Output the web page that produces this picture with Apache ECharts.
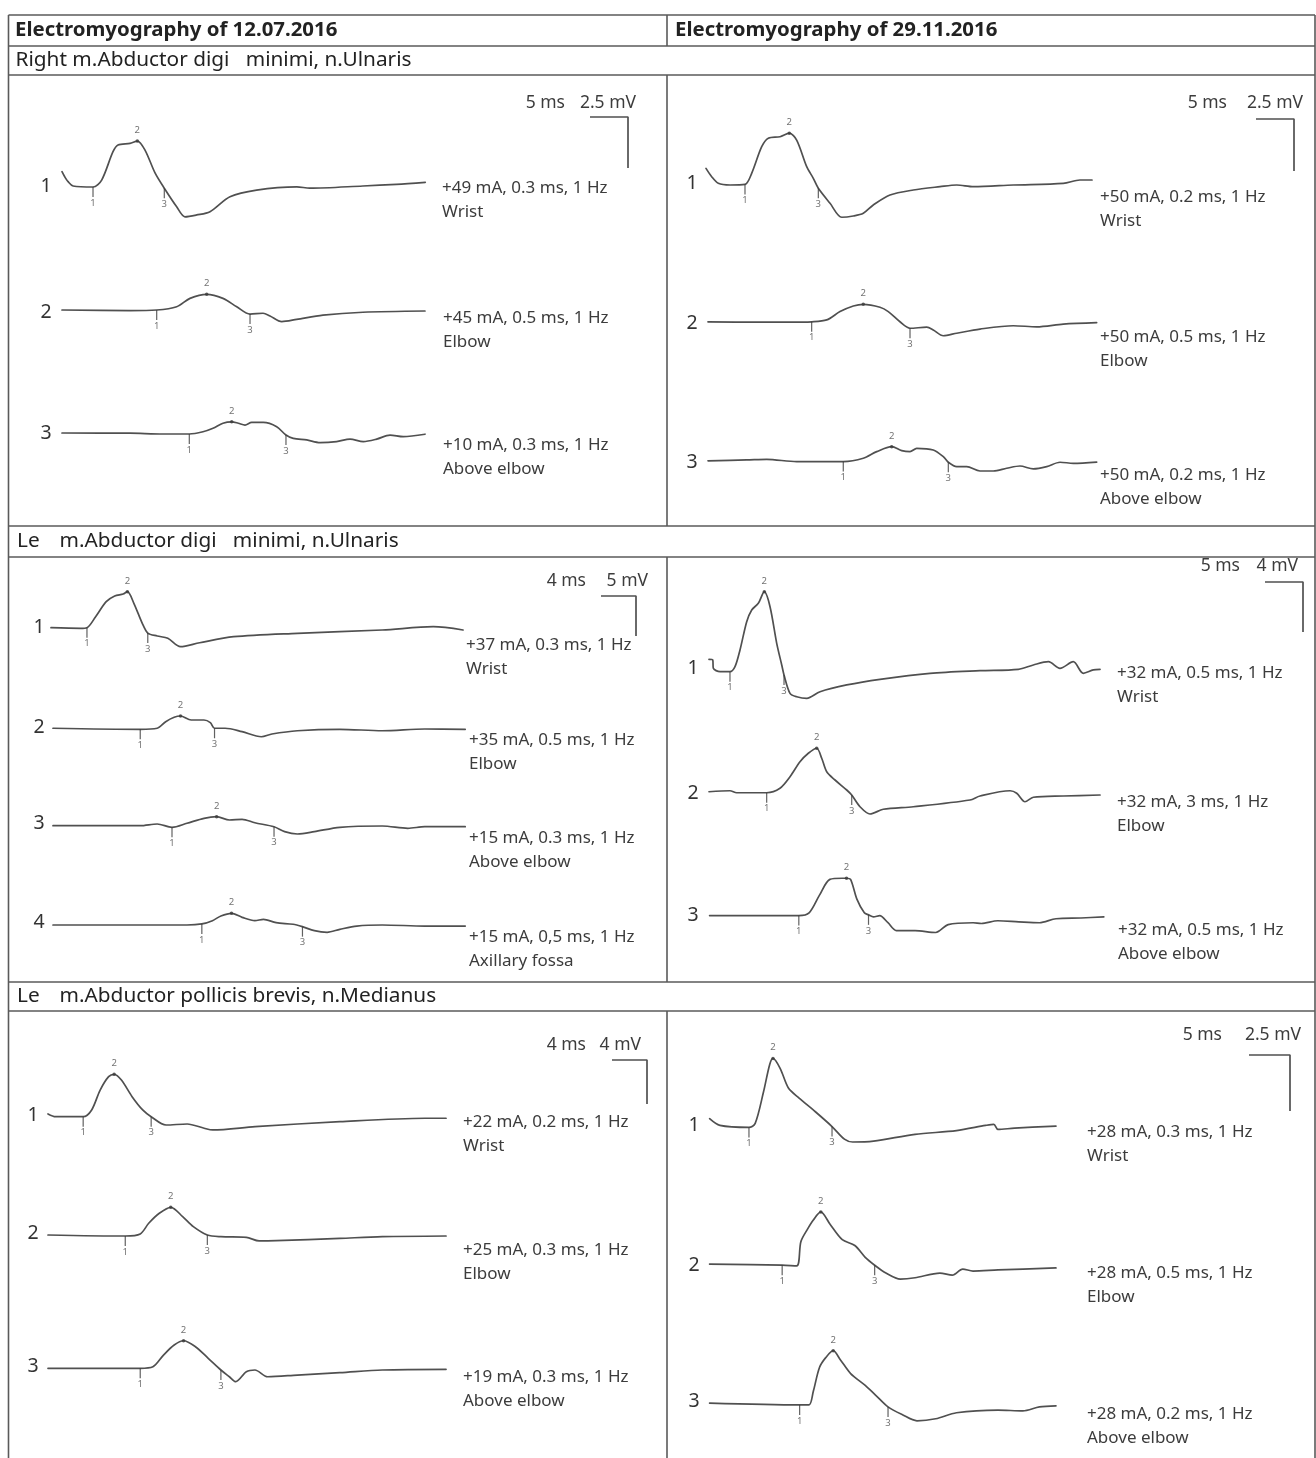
<!DOCTYPE html>
<html><head><meta charset="utf-8">
<script src="https://cdn.jsdelivr.net/npm/echarts@6/dist/echarts.min.js"></script>
<style>html,body{margin:0;padding:0;background:#fff}#c{width:1316px;height:1458px}</style>
</head><body><div id="c"></div>
<script>
// ---------------- DATA (time in ms, amplitude in mV) ----------------
const panelTitles = ['Electromyography of 12.07.2016', 'Electromyography of 29.11.2016'];
const sectionA = ['Right m.Abductor digi   minimi, n.Ulnaris'];
const sectionB = ['Le', 'm.Abductor digi   minimi, n.Ulnaris'];
const sectionC = ['Le', 'm.Abductor pollicis brevis, n.Medianus'];

// scale bars per panel: A-left, A-right, B-left, B-right, C-left, C-right
const scaleMs = [5, 5, 4, 5, 4, 5];
const scaleMv = [2.5, 2.5, 5, 4, 4, 2.5];

const stimLA = ['+49 mA, 0.3 ms, 1 Hz', '+45 mA, 0.5 ms, 1 Hz', '+10 mA, 0.3 ms, 1 Hz'];
const siteLA = ['Wrist', 'Elbow', 'Above elbow'];
const stimRA = ['+50 mA, 0.2 ms, 1 Hz', '+50 mA, 0.5 ms, 1 Hz', '+50 mA, 0.2 ms, 1 Hz'];
const siteRA = ['Wrist', 'Elbow', 'Above elbow'];
const stimLB = ['+37 mA, 0.3 ms, 1 Hz', '+35 mA, 0.5 ms, 1 Hz', '+15 mA, 0.3 ms, 1 Hz', '+15 mA, 0,5 ms, 1 Hz'];
const siteLB = ['Wrist', 'Elbow', 'Above elbow', 'Axillary fossa'];
const stimRB = ['+32 mA, 0.5 ms, 1 Hz', '+32 mA, 3 ms, 1 Hz', '+32 mA, 0.5 ms, 1 Hz'];
const siteRB = ['Wrist', 'Elbow', 'Above elbow'];
const stimLC = ['+22 mA, 0.2 ms, 1 Hz', '+25 mA, 0.3 ms, 1 Hz', '+19 mA, 0.3 ms, 1 Hz'];
const siteLC = ['Wrist', 'Elbow', 'Above elbow'];
const stimRC = ['+28 mA, 0.3 ms, 1 Hz', '+28 mA, 0.5 ms, 1 Hz', '+28 mA, 0.2 ms, 1 Hz'];
const siteRC = ['Wrist', 'Elbow', 'Above elbow'];

// traces [t ms, v mV]
const traceLA1 = [[0,0.75],[0.36,0.5],[0.8,0.26],[1.46,0.05],[4.08,0],[5.22,0.34],[6.71,1.73],[7.37,2.06],[8.95,2.14],[9.91,2.25],[10.92,1.81],[12.24,0.69],[13.46,-0.06],[15.09,-0.97],[16.18,-1.46],[17.72,-1.37],[19.47,-1.21],[22.1,-0.48],[25.6,-0.15],[30.9,0.01],[32.6,-0.06],[39.6,0.05],[44.0,0.13],[47.8,0.23]];
const traceLA2 = [[0,0],[8.95,-0.03],[12.46,0],[15.09,0.16],[16.84,0.57],[19.04,0.77],[21.18,0.57],[22.99,0.16],[24.74,-0.2],[26.45,-0.16],[27.37,-0.29],[28.91,-0.57],[30.88,-0.46],[34.34,-0.25],[39.6,-0.11],[47.76,-0.05]];
const traceLA3 = [[0,0],[8.95,-0.01],[13.29,-0.05],[16.75,-0.05],[18.55,0.06],[19.87,0.23],[21.18,0.48],[22.33,0.55],[23.2,0.48],[24.08,0.39],[24.96,0.52],[26.49,0.52],[28.25,0.31],[29.47,-0.1],[30.43,-0.26],[32.2,-0.34],[33.95,-0.47],[36.14,-0.42],[37.9,-0.3],[39.64,-0.42],[41.4,-0.3],[43.16,-0.1],[44.9,-0.18],[47.76,-0.06]];
const traceRA1 = [[0,0.8],[0.75,0.4],[1.62,0.08],[3.16,0],[5.13,0.03],[6.01,0.56],[7.33,1.84],[8.2,2.25],[9.74,2.32],[10.96,2.49],[11.93,2.16],[13.25,0.88],[14.12,0.32],[14.78,-0.16],[16.32,-0.88],[17.86,-1.55],[19.38,-1.49],[20.7,-1.36],[22.01,-0.96],[24.21,-0.48],[27.28,-0.24],[30.79,-0.08],[32.99,0],[35.2,-0.08],[40.43,0],[47.01,0.08],[49.21,0.24],[50.79,0.24]];
const traceRA2 = [[0,0.01],[6.41,-0.01],[10.79,-0.01],[13.64,0.01],[15.62,0.1],[17.37,0.5],[19.12,0.77],[20.43,0.85],[22.63,0.71],[23.72,0.5],[25.26,0.01],[26.58,-0.3],[28.78,-0.25],[29.64,-0.38],[30.96,-0.66],[32.72,-0.54],[35.79,-0.34],[40.17,-0.18],[43.25,-0.23],[46.75,-0.1],[51.14,-0.03]];
const traceRA3 = [[0,0.01],[5.09,0.05],[7.72,0.08],[11.67,-0.03],[17.8,-0.03],[20.43,0.13],[22.2,0.45],[24.17,0.69],[25.49,0.5],[26.58,0.45],[27.46,0.61],[29.64,0.53],[30.96,0.21],[31.62,-0.06],[32.72,-0.27],[34.04,-0.27],[35.79,-0.48],[37.54,-0.48],[39.3,-0.35],[41.05,-0.24],[42.8,-0.38],[44.57,-0.27],[46.32,-0.06],[48.07,-0.11],[51.14,-0.05]];
const traceLB1 = [[0,0.04],[3.39,-0.04],[4.11,0.04],[5.1,1.41],[6.31,3.29],[7.28,4.0],[8.25,4.25],[8.73,4.54],[9.47,3.09],[10.43,0.59],[11.06,-0.63],[12.14,-1.0],[13.35,-1.29],[14.8,-2.34],[16.99,-1.84],[20.87,-1.09],[28.16,-0.66],[37.86,-0.25],[43.69,0.16],[47.09,-0.25]];
const traceLB2 = [[0,0.03],[9.97,-0.1],[11.91,0.03],[12.88,0.85],[13.85,1.4],[14.57,1.56],[15.79,1.06],[17.25,1.06],[17.98,0.73],[18.46,0.03],[19.67,0.03],[21.61,-0.4],[23.81,-1.03],[25.02,-0.69],[27.93,-0.28],[32.78,-0.1],[37.63,-0.28],[42.49,-0.06],[47.11,-0.1]];
const traceLB3 = [[0,0.04],[9.97,0.04],[11.91,0.25],[13.6,-0.16],[15.31,0.34],[17.26,0.96],[18.7,1.16],[20.17,0.75],[21.61,0.84],[23.07,0.41],[25.26,-0.09],[26.47,-0.71],[27.93,-1.0],[29.87,-0.71],[32.78,-0.16],[37.63,0],[40.55,-0.29],[42.49,-0.09],[47.11,-0.09]];
const traceLB4 = [[0,0],[15.31,0],[17.01,0.13],[18.22,0.54],[19.19,1.13],[20.4,1.46],[21.61,0.96],[23.07,0.54],[24.05,0.71],[25.5,0.29],[27.44,0.09],[28.51,-0.21],[29.87,-0.71],[31.33,-0.91],[32.78,-0.54],[34.72,-0.13],[37.63,0],[42.49,-0.13],[47.11,-0.13]];
const traceRB1 = [[0,0.99],[0.49,0.94],[0.57,0.27],[1.45,0],[2.76,0],[3.42,0.4],[4.08,1.74],[4.96,4.0],[5.62,4.94],[6.49,5.47],[7.28,6.4],[8.03,5.2],[8.91,2.27],[9.57,0.54],[9.87,-0.26],[10.66,-1.73],[11.54,-2.0],[12.86,-2.13],[14.61,-1.6],[18.12,-1.06],[22.5,-0.61],[29.08,-0.13],[35.66,0.08],[40.7,0.19],[42.68,0.54],[44.66,0.8],[46.18,0.27],[47.93,0.8],[49.25,-0.13],[50.57,0.14],[51.45,0.19]];
const traceRB2 = [[0,0.06],[2.76,0.14],[3.64,-0.02],[7.59,-0.02],[9.34,0.34],[10.66,1.26],[11.97,2.46],[13.07,3.14],[14.17,3.54],[14.83,2.74],[15.49,1.66],[16.58,1.0],[18.12,0.2],[18.78,-0.2],[19.87,-1.14],[21.18,-1.72],[22.93,-1.34],[26.88,-1.14],[34.34,-0.6],[35.66,-0.28],[39.61,0.14],[40.49,-0.06],[41.58,-0.74],[42.68,-0.38],[46.62,-0.28],[51.45,-0.2]];
const traceRB3 = [[0,0],[11.74,0],[13.09,0.22],[14.46,1.64],[15.83,2.9],[17.46,2.99],[18.01,2.99],[18.55,2.9],[19.38,1.32],[20.36,0.22],[20.91,0.06],[21.57,-0.1],[22.38,0],[23.47,-0.57],[24.57,-1.2],[27.03,-1.2],[29.75,-1.35],[31.39,-0.72],[34.66,-0.57],[35.76,-0.63],[37.93,-0.41],[40.67,-0.5],[43.39,-0.57],[45.58,-0.25],[48.86,-0.19],[51.87,-0.1]];
const traceLC1 = [[0,0.21],[0.87,0],[4.02,0],[4.99,0.52],[5.96,2.05],[6.93,3.08],[7.56,3.26],[8.39,2.82],[9.61,1.54],[10.82,0.52],[11.79,0],[13.49,-0.64],[15.91,-0.56],[17.85,-0.89],[18.82,-1.02],[23.67,-0.77],[33.37,-0.38],[43.09,-0.12],[45.49,-0.12]];
const traceLC2 = [[0,0.04],[8.83,-0.04],[10.54,0.12],[11.51,0.94],[12.72,1.71],[14.03,2.17],[15.39,1.45],[16.61,0.68],[18.21,0.04],[19.76,-0.09],[22.67,-0.14],[24.13,-0.42],[26.07,-0.4],[33.35,-0.22],[38.21,-0.09],[45.49,-0.04]];
const traceLC3 = [[0,0],[10.54,0],[11.99,0.12],[13.2,1.02],[14.42,1.79],[15.49,2.12],[16.85,1.66],[18.31,0.77],[19.76,-0.13],[20.73,-0.65],[21.46,-1.03],[22.67,-0.26],[23.65,-0.13],[25.1,-0.65],[28.5,-0.52],[33.35,-0.34],[38.21,-0.13],[45.49,-0.08]];
const traceRC1 = [[0,0.37],[1.26,0.07],[4.8,-0.02],[5.56,0.16],[6.57,1.56],[7.33,2.79],[7.73,3.06],[8.6,2.62],[9.61,1.74],[10.88,1.3],[12.9,0.68],[14.93,0.02],[16.44,-0.54],[17.45,-0.67],[19.99,-0.63],[25.05,-0.33],[30.11,-0.16],[33.65,0.07],[34.66,0.12],[35.17,-0.11],[37.18,-0.05],[42.24,0.04]];
const traceRC2 = [[0,0.04],[8.85,-0.01],[10.62,-0.04],[11.13,1.04],[11.89,1.57],[12.65,2.01],[13.56,2.37],[14.67,1.83],[16.18,1.13],[17.71,0.87],[18.98,0.34],[20.13,-0.01],[21.5,-0.36],[23.27,-0.63],[25.05,-0.57],[28.09,-0.36],[29.6,-0.45],[30.87,-0.18],[32.12,-0.27],[35.17,-0.22],[42.24,-0.13]];
const traceRC3 = [[0,0.04],[10.98,-0.04],[12.13,-0.04],[12.65,0.57],[13.4,1.63],[14.16,2.07],[15.07,2.38],[15.94,1.98],[17.2,1.36],[18.98,0.83],[20.23,0.4],[21.76,-0.13],[23.52,-0.48],[25.29,-0.75],[27.57,-0.66],[30.11,-0.39],[35.17,-0.27],[38.2,-0.31],[40.22,-0.13],[42.24,-0.08]];

// markers: onset (1), peak (2), end (3) as [t ms, v mV]
const markLA1 = [[4.08,0],[9.91,2.25],[13.46,-0.06]];
const markLA2 = [[12.46,0],[19.04,0.77],[24.74,-0.2]];
const markLA3 = [[16.75,-0.05],[22.33,0.55],[29.47,-0.1]];
const markRA1 = [[5.13,0.03],[10.96,2.49],[14.78,-0.16]];
const markRA2 = [[13.64,0.01],[20.43,0.85],[26.58,-0.3]];
const markRA3 = [[17.8,-0.03],[24.17,0.69],[31.62,-0.06]];
const markLB1 = [[4.11,0.04],[8.73,4.54],[11.06,-0.63]];
const markLB2 = [[9.97,-0.1],[14.57,1.56],[18.46,0.03]];
const markLB3 = [[13.6,-0.16],[18.7,1.16],[25.26,-0.09]];
const markLB4 = [[17.01,0.13],[20.4,1.46],[28.51,-0.21]];
const markRB1 = [[2.76,0],[7.28,6.4],[9.87,-0.26]];
const markRB2 = [[7.59,-0.02],[14.17,3.54],[18.78,-0.2]];
const markRB3 = [[11.74,0],[18.01,2.99],[20.91,0.06]];
const markLC1 = [[4.02,0],[7.56,3.26],[11.79,0]];
const markLC2 = [[8.83,-0.04],[14.03,2.17],[18.21,0.04]];
const markLC3 = [[10.54,0],[15.49,2.12],[19.76,-0.13]];
const markRC1 = [[4.8,-0.02],[7.73,3.06],[14.93,0.02]];
const markRC2 = [[8.85,-0.01],[13.56,2.37],[20.13,-0.01]];
const markRC3 = [[10.98,-0.04],[15.07,2.38],[21.76,-0.13]];

// ---------------- LAYOUT (pixels) ----------------
const FONT = '"Noto Sans", sans-serif';
const INK = '#505050';
const TXT = '#3c3c3c';
const RULE = '#5a5a5a';
const PAGE_H = 1458;

const panelLayout = [
  {pxMs:7.6,  pxMv:20.4, barX:628,  barY:117,  msR:565,  mvR:636,  txtY:103},
  {pxMs:7.6,  pxMv:20.8, barX:1294, barY:119,  msR:1227, mvR:1303, txtY:103},
  {pxMs:8.75, pxMv:8,    barX:636,  barY:596,  msR:586,  mvR:648,  txtY:581},
  {pxMs:7.6,  pxMv:12.5, barX:1303, barY:582,  msR:1240, mvR:1298, txtY:566},
  {pxMs:8.75, pxMv:11,   barX:647,  barY:1060, msR:586,  mvR:641,  txtY:1045},
  {pxMs:8.2,  pxMv:22.4, barX:1290, barY:1055, msR:1222, mvR:1301, txtY:1035}
];

const traceLayout = [
  {p:0, d:traceLA1, m:markLA1, x0:62,    yb:187,    nx:46,  ny:186,  sx:442,  sy:188,  st:stimLA[0], si:siteLA[0], n:'1'},
  {p:0, d:traceLA2, m:markLA2, x0:62,    yb:310,    nx:46,  ny:312,  sx:443,  sy:318,  st:stimLA[1], si:siteLA[1], n:'2'},
  {p:0, d:traceLA3, m:markLA3, x0:62,    yb:433,    nx:46,  ny:433,  sx:443,  sy:445,  st:stimLA[2], si:siteLA[2], n:'3'},
  {p:1, d:traceRA1, m:markRA1, x0:706,   yb:185,    nx:692, ny:183,  sx:1100, sy:197,  st:stimRA[0], si:siteRA[0], n:'1'},
  {p:1, d:traceRA2, m:markRA2, x0:708,   yb:322,    nx:692, ny:323,  sx:1100, sy:337,  st:stimRA[1], si:siteRA[1], n:'2'},
  {p:1, d:traceRA3, m:markRA3, x0:708,   yb:461,    nx:692, ny:462,  sx:1100, sy:475,  st:stimRA[2], si:siteRA[2], n:'3'},
  {p:2, d:traceLB1, m:markLB1, x0:51,    yb:628,    nx:39,  ny:627,  sx:466,  sy:645,  st:stimLB[0], si:siteLB[0], n:'1'},
  {p:2, d:traceLB2, m:markLB2, x0:53,    yb:728.5,  nx:39,  ny:727,  sx:469,  sy:740,  st:stimLB[1], si:siteLB[1], n:'2'},
  {p:2, d:traceLB3, m:markLB3, x0:53,    yb:826,    nx:39,  ny:823,  sx:469,  sy:838,  st:stimLB[2], si:siteLB[2], n:'3'},
  {p:2, d:traceLB4, m:markLB4, x0:53,    yb:925,    nx:39,  ny:922,  sx:469,  sy:937,  st:stimLB[3], si:siteLB[3], n:'4'},
  {p:3, d:traceRB1, m:markRB1, x0:709,   yb:671.7,  nx:693, ny:668,  sx:1117, sy:673,  st:stimRB[0], si:siteRB[0], n:'1'},
  {p:3, d:traceRB2, m:markRB2, x0:709,   yb:792.5,  nx:693, ny:793,  sx:1117, sy:802,  st:stimRB[1], si:siteRB[1], n:'2'},
  {p:3, d:traceRB3, m:markRB3, x0:709.6, yb:915.6,  nx:693, ny:915,  sx:1118, sy:930,  st:stimRB[2], si:siteRB[2], n:'3'},
  {p:4, d:traceLC1, m:markLC1, x0:48,    yb:1116.7, nx:33,  ny:1115, sx:463,  sy:1122, st:stimLC[0], si:siteLC[0], n:'1', pxMv:13},
  {p:4, d:traceLC2, m:markLC2, x0:48,    yb:1235.5, nx:33,  ny:1233, sx:463,  sy:1250, st:stimLC[1], si:siteLC[1], n:'2', pxMv:13},
  {p:4, d:traceLC3, m:markLC3, x0:48,    yb:1368.3, nx:33,  ny:1366, sx:463,  sy:1377, st:stimLC[2], si:siteLC[2], n:'3', pxMv:13},
  {p:5, d:traceRC1, m:markRC1, x0:709.6, yb:1127,   nx:694, ny:1125, sx:1087, sy:1132, st:stimRC[0], si:siteRC[0], n:'1'},
  {p:5, d:traceRC2, m:markRC2, x0:709.6, yb:1265,   nx:694, ny:1265, sx:1087, sy:1273, st:stimRC[1], si:siteRC[1], n:'2'},
  {p:5, d:traceRC3, m:markRC3, x0:709.6, yb:1404,   nx:694, ny:1401, sx:1087, sy:1414, st:stimRC[2], si:siteRC[2], n:'3'}
];

// ---------------- BUILD ----------------
const grids = [], xAxes = [], yAxes = [], series = [], graphics = [];
function addGrid(left, top, w, h, xmin, xmax, ymin, ymax) {
  const i = grids.length;
  grids.push({left, top, width: w, height: h, containLabel: false, show: false});
  xAxes.push({type: 'value', gridIndex: i, min: xmin, max: xmax, show: false});
  yAxes.push({type: 'value', gridIndex: i, min: ymin, max: ymax, show: false});
  return i;
}
function txt(text, x, y, size, opt) {
  opt = opt || {};
  graphics.push({type: 'text', x, y, silent: true, z: 10, style: {
    text, fill: opt.fill || TXT,
    font: (opt.weight || 'normal') + ' ' + size + 'px ' + FONT,
    textAlign: opt.align || 'left', align: opt.align || 'left',
    textVerticalAlign: 'middle', verticalAlign: 'middle'
  }});
}
function hline(x1, x2, y) { graphics.push({type:'line', silent:true, z:5, shape:{x1, y1:y, x2, y2:y}, style:{stroke:RULE, lineWidth:1.6}}); }
function vline(x, y1, y2) { graphics.push({type:'line', silent:true, z:5, shape:{x1:x, y1, x2:x, y2}, style:{stroke:RULE, lineWidth:1.6}}); }

const T = 60, VUP = 8;
traceLayout.forEach(tr => {
  const P = panelLayout[tr.p];
  const pxMv = tr.pxMv || P.pxMv;
  const vDown = Math.min(4, (PAGE_H - 2 - tr.yb) / pxMv);   // keep grid inside the page
  const g = addGrid(tr.x0, tr.yb - VUP * pxMv, T * P.pxMs, (VUP + vDown) * pxMv, 0, T, -vDown, VUP);
  series.push({type: 'line', xAxisIndex: g, yAxisIndex: g, data: tr.d, showSymbol: false, symbol: 'none',
    smooth: 0.3, clip: false, silent: true,
    lineStyle: {color: INK, width: 1.7, join: 'round', cap: 'round'}});
  const lab = {show: true, formatter: '{b}', fontSize: 9.5, color: '#505050', fontFamily: FONT};
  series.push({type: 'scatter', xAxisIndex: g, yAxisIndex: g, silent: true, z: 3, clip: false,
    itemStyle: {color: '#3a3a3a'}, label: lab,
    data: [
      {name: '1', value: tr.m[0], symbol: 'rect', symbolSize: [1.2, 10], symbolOffset: [0, 5], label: {position: 'bottom', distance: 1}},
      {name: '2', value: tr.m[1], symbol: 'circle', symbolSize: 3.5, label: {position: 'top', distance: 4}},
      {name: '3', value: tr.m[2], symbol: 'rect', symbolSize: [1.2, 10], symbolOffset: [0, 5], label: {position: 'bottom', distance: 1}}
    ]});
  txt(tr.n, tr.nx, tr.ny, 19.5, {align: 'center', fill: '#333'});
  txt(tr.st, tr.sx, tr.sy, 17);
  txt(tr.si, tr.sx, tr.sy + 24, 17);
});

// scale bars drawn through their own axes
panelLayout.forEach((P, k) => {
  const ms = scaleMs[k], mv = scaleMv[k];
  const w = ms * P.pxMs, h = mv * P.pxMv;
  const g = addGrid(P.barX - w, P.barY, w, h, 0, ms, -mv, 0);
  series.push({type: 'line', xAxisIndex: g, yAxisIndex: g, data: [[0, 0], [ms, 0], [ms, -mv]],
    showSymbol: false, symbol: 'none', clip: false, silent: true, lineStyle: {color: INK, width: 1.7}});
  txt(ms + ' ms', P.msR, P.txtY, 17.5, {align: 'right'});
  txt(mv + ' mV', P.mvR, P.txtY, 17.5, {align: 'right'});
});

// table frame
const L = 8.5, R = 1315, M = 667;
const rowY = [15, 46, 75, 526, 557, 982, 1011];
rowY.forEach(y => hline(L, R, y));
vline(L, rowY[0], PAGE_H); vline(R, rowY[0], PAGE_H);
vline(M, rowY[0], rowY[1]); vline(M, rowY[2], rowY[3]); vline(M, rowY[4], rowY[5]); vline(M, rowY[6], PAGE_H);

// table texts
const HF = 20.4, SF = 20.8;
txt(panelTitles[0], 15, (rowY[0] + rowY[1]) / 2, HF, {weight: 'bold', fill: '#222'});
txt(panelTitles[1], 675, (rowY[0] + rowY[1]) / 2, HF, {weight: 'bold', fill: '#222'});
txt(sectionA[0], 15.5, (rowY[1] + rowY[2]) / 2, SF, {fill: '#222'});
txt(sectionB[0], 17, (rowY[3] + rowY[4]) / 2, SF, {fill: '#222'});
txt(sectionB[1], 59.5, (rowY[3] + rowY[4]) / 2, SF, {fill: '#222'});
txt(sectionC[0], 17, (rowY[5] + rowY[6]) / 2, SF, {fill: '#222'});
txt(sectionC[1], 59.5, (rowY[5] + rowY[6]) / 2, SF, {fill: '#222'});

const chart = echarts.init(document.getElementById('c'), null, {renderer: 'canvas'});
chart.setOption({
  animation: false,
  backgroundColor: '#ffffff',
  grid: grids, xAxis: xAxes, yAxis: yAxes, series,
  graphic: {elements: graphics}
});
</script></body></html>
